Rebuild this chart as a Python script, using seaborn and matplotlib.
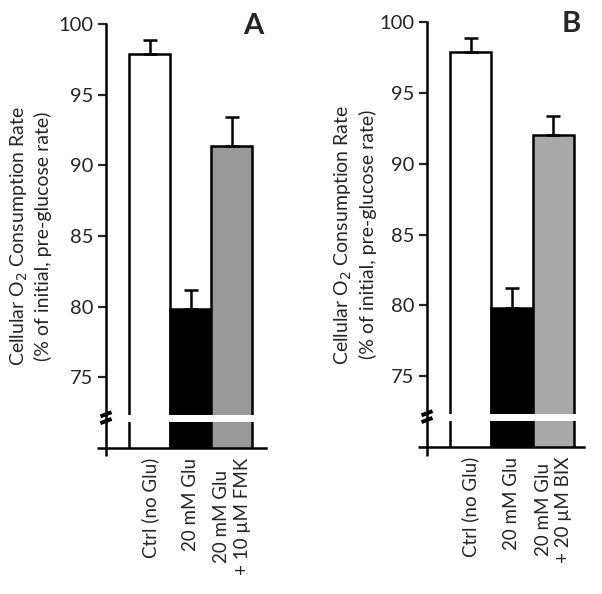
import pandas as pd
import seaborn as sns
import matplotlib.pyplot as plt

# values (% of initial, pre-glucose O2 consumption rate)
labels_a = ['Ctrl (no Glu)', '20 mM Glu', '20 mM Glu\n+ 10 µM FMK']
means_a = [97.85, 79.8, 91.4]
errs_a = [1.0, 1.4, 2.0]

labels_b = ['Ctrl (no Glu)', '20 mM Glu', '20 mM Glu\n+ 20 µM BIX']
means_b = [97.85, 79.8, 92.0]
errs_b = [1.0, 1.4, 1.4]

colors_a = ['white', 'black', '#999999']
colors_b = ['white', 'black', '#a8a8a8']

yticks = [75, 80, 85, 90, 95, 100]

sns.set_style('white')
plt.rcParams['font.family'] = ['Lato', 'DejaVu Sans']


def draw_panel(ax, labels, means, errs, colors, letter, xlim, label_x):
    df = pd.DataFrame({'cond': labels, 'rate': means})
    sns.barplot(data=df, x='cond', y='rate', hue='cond', palette=colors,
                width=1.0, edgecolor='black', linewidth=1.8, legend=False,
                errorbar=None, ax=ax, zorder=2)
    # upper error bars only
    ax.errorbar(range(len(means)), means, yerr=[[0] * len(errs), errs],
                fmt='none', ecolor='black', elinewidth=1.8, capsize=4.8,
                capthick=1.8, zorder=4)

    ax.set_ylim(70, 100)
    ax.set_xlim(*xlim)
    ax.set_yticks(yticks)
    ax.tick_params(axis='y', direction='out', length=6, width=1.6,
                   labelsize=14.5, left=True, pad=3)
    ax.tick_params(axis='x', length=0, labelsize=13.5, pad=7)
    plt.setp(ax.get_xticklabels(), rotation=90, multialignment='center',
             linespacing=1.25)
    ax.set_xlabel('')
    ax.set_ylabel('Cellular O$_2$ Consumption Rate\n(% of initial, pre-glucose rate)',
                  fontsize=14, linespacing=1.3)
    ax.yaxis.set_label_coords(label_x, 0.5)

    sns.despine(ax=ax)
    for side in ['left', 'bottom']:
        ax.spines[side].set_linewidth(1.8)
        ax.spines[side].set_color('black')

    # axis break: white gap across bars
    ax.fill_between([-0.56, len(means) - 0.44], 71.85, 72.35,
                    color='white', zorder=3, linewidth=0)
    tr = ax.transAxes
    # short extension of the x axis past the y axis, and y axis below x axis
    ax.plot([-0.055, 0], [0, 0], color='black', lw=1.8, transform=tr,
            clip_on=False, solid_capstyle='butt')
    ax.plot([0, 0], [0, -0.02], color='black', lw=1.8, transform=tr,
            clip_on=False, solid_capstyle='butt')
    # break marks on y axis
    for yb in [0.0795, 0.0635]:
        ax.plot([-0.035, 0.035], [yb - 0.005, yb + 0.005], color='black',
                lw=2.8, transform=tr, clip_on=False, solid_capstyle='butt',
                zorder=6)

    ax.text(0.92, 0.995, letter, transform=tr, fontsize=21, fontweight='bold',
            ha='center', va='center')


fig = plt.figure(figsize=(6.02, 5.94), dpi=100)
ax_a = fig.add_axes([106 / 602, 1 - 448 / 594, 160 / 602, 424 / 594])
ax_b = fig.add_axes([427 / 602, 1 - 447 / 594, 157 / 602, 425 / 594])

draw_panel(ax_a, labels_a, means_a, errs_a, colors_a, 'A', (-1.073, 2.83), -0.335)
draw_panel(ax_b, labels_b, means_b, errs_b, colors_b, 'B', (-1.053, 2.74), -0.32)

fig.savefig('out.png', dpi=100)
